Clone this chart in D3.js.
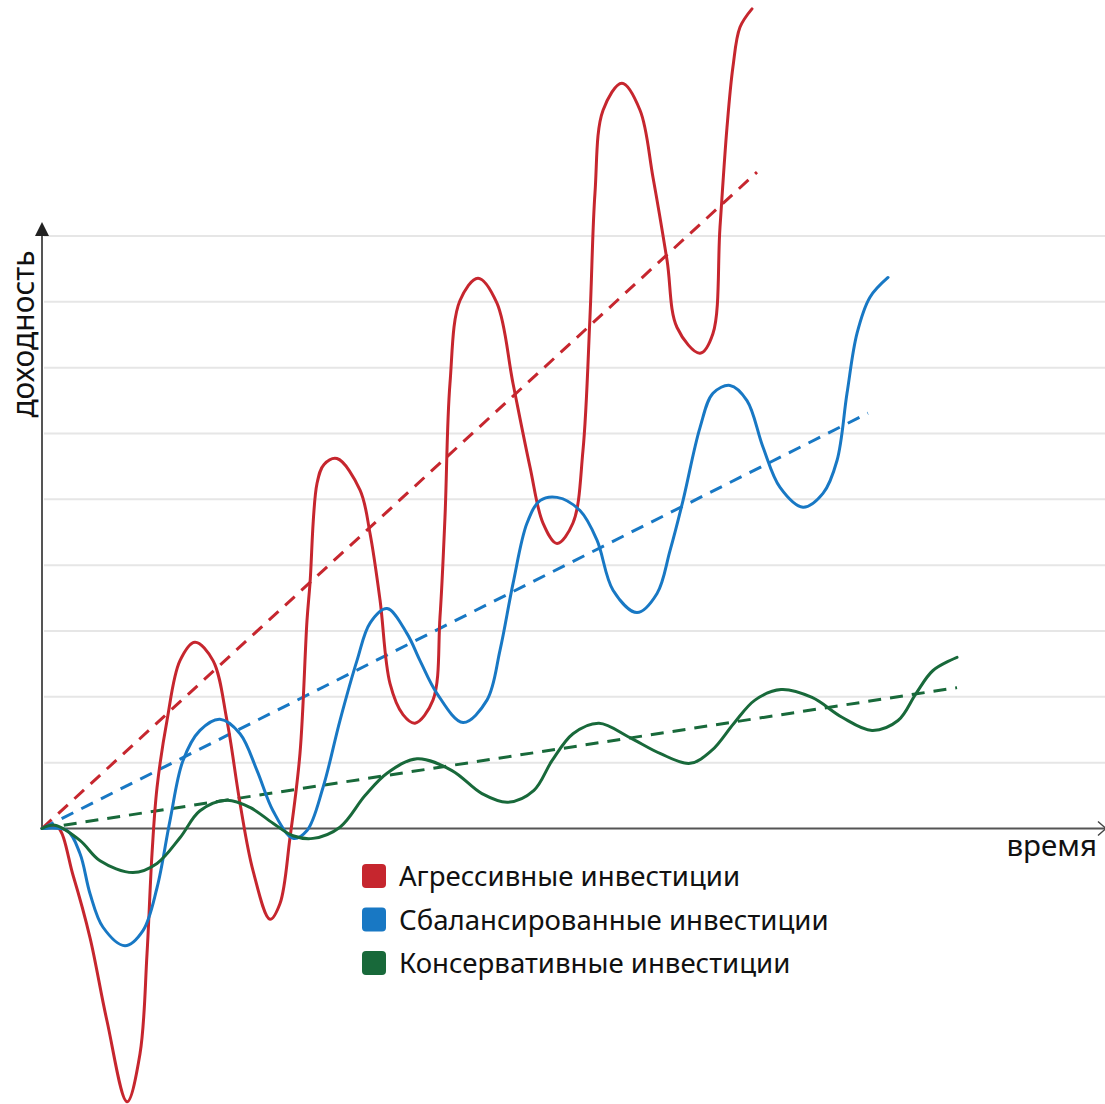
<!DOCTYPE html>
<html><head><meta charset="utf-8">
<script src="https://cdn.jsdelivr.net/npm/d3@7"></script>
<style>html,body{margin:0;padding:0;background:#fff;}svg{display:block;}</style>
</head><body>
<svg id="chart" width="1105" height="1104"></svg>
<script>
// ---- data (time units, return units: one grid step = 1) ----
const seriesNames = ["Агрессивные инвестиции", "Сбалансированные инвестиции", "Консервативные инвестиции"];
const seriesColors = ["#c6262e", "#1878c4", "#18693a"];
const gridValues = [1, 2, 3, 4, 5, 6, 7, 8, 9];
const axisLabelX = "время";
const axisLabelY = "доходность";

const aggressiveT = [0,1.41,2.92,4.52,6.11,8.0,9.22,9.88,10.35,10.82,11.76,12.98,14.39,16.09,17.40,18.63,19.85,21.45,22.39,23.33,24.27,24.93,25.21,25.87,26.53,27.75,29.92,30.86,31.80,32.74,33.96,35.09,36.78,37.44,37.91,38.38,39.32,41.02,42.80,44.31,45.91,47.13,48.45,49.95,50.89,51.55,52.02,52.78,54.56,56.26,57.48,58.80,59.74,61.90,63.12,63.78,64.44,65.00,65.66,66.79];
const aggressiveR = [0,0.03,-0.71,-1.66,-2.92,-4.15,-3.42,-1.90,-0.38,0.62,1.64,2.55,2.83,2.55,1.64,0.38,-0.64,-1.38,-1.14,-0.14,1.14,3.16,3.72,5.24,5.53,5.62,5.14,4.48,3.47,2.20,1.73,1.60,1.95,3.21,4.73,6.76,8.02,8.36,7.98,6.76,5.49,4.64,4.33,4.64,5.74,7.77,9.65,10.91,11.32,10.91,9.89,8.63,7.61,7.22,7.52,9.13,10.65,11.57,12.17,12.45];

const balancedT = [0,2.35,3.57,4.52,5.74,7.81,9.50,10.82,12.04,13.26,14.86,16.74,18.63,20.23,21.73,23.61,24.93,26.43,28.03,29.63,30.86,32.46,34.34,35.56,37.16,39.61,41.86,43.09,44.31,45.63,46.85,48.45,50.61,52.21,53.72,55.97,57.86,59.08,60.30,61.90,63.12,64.72,66.32,67.83,69.43,71.59,73.47,74.79,75.73,76.67,77.89,79.59];
const balancedR = [0,-0.03,-0.38,-0.99,-1.50,-1.78,-1.55,-0.90,0.12,1.03,1.49,1.66,1.44,0.88,0.27,-0.15,-0.03,0.62,1.64,2.55,3.12,3.34,2.96,2.55,2.05,1.61,1.95,2.71,3.72,4.64,4.98,5.03,4.83,4.38,3.62,3.28,3.57,4.22,4.98,6.09,6.61,6.73,6.50,5.79,5.18,4.88,5.09,5.59,6.61,7.52,8.07,8.37];

const conservativeT = [0,1.22,3.57,5.46,8.56,10.82,12.98,14.86,17.40,19.57,21.73,23.61,25.49,28.03,30.39,32.46,35.28,38.57,41.39,43.84,46.28,47.98,49.95,52.40,55.31,58.14,60.96,63.03,65.10,67.07,69.52,72.44,75.26,78.08,80.53,82.22,83.82,86.08];
const conservativeR = [0,0.05,-0.18,-0.49,-0.67,-0.53,-0.14,0.27,0.43,0.32,0.08,-0.11,-0.15,0.02,0.50,0.84,1.06,0.88,0.53,0.40,0.58,1.03,1.44,1.60,1.38,1.14,0.99,1.19,1.60,1.95,2.11,1.99,1.69,1.49,1.64,2.05,2.40,2.60];

// trend lines: [start, end] in (time, return)
const trendT = [[0, 67.26], [0, 77.70], [0, 86.08]];
const trendR = [[0, 9.97], [0, 6.31], [0, 2.14]];

// ---- drawing ----
const W = 1105, H = 1104;
const svg = d3.select("#chart");
const x = d3.scaleLinear().domain([0, 100]).range([42, 1105]);
const y = d3.scaleLinear().domain([0, 9]).range([828.5, 236]);

// grid
svg.append("g").selectAll("line").data(gridValues).join("line")
  .attr("x1", x(0) + 2).attr("x2", W)
  .attr("y1", d => y(d)).attr("y2", d => y(d))
  .attr("stroke", "#e6e6e6").attr("stroke-width", 2);

// axes
const axisColor = "#555";
svg.append("line").attr("x1", x(0)).attr("x2", x(0)).attr("y1", y(0)).attr("y2", 230)
  .attr("stroke", axisColor).attr("stroke-width", 2);
svg.append("path").attr("d", `M${x(0)},222 L${x(0)-7},236 L${x(0)+7},236 Z`).attr("fill", "#222");
svg.append("line").attr("x1", x(0)).attr("x2", W).attr("y1", y(0)).attr("y2", y(0))
  .attr("stroke", axisColor).attr("stroke-width", 2);
svg.append("path").attr("d", `M${W-7},${y(0)-7} L${W+1},${y(0)} L${W-7},${y(0)+7}`)
  .attr("fill", "none").attr("stroke", "#444").attr("stroke-width", 1.5);

const line = d3.line().x(d => x(d[0])).y(d => y(d[1])).curve(d3.curveCatmullRom.alpha(0.5));

// trend lines
trendT.forEach((tt, i) => {
  svg.append("path")
    .attr("d", d3.line().x(d => x(d[0])).y(d => y(d[1]))(tt.map((t, j) => [t, trendR[i][j]])))
    .attr("fill", "none").attr("stroke", seriesColors[i]).attr("stroke-width", 3)
    .attr("stroke-dasharray", "13,9");
});

const seriesData = [
  aggressiveT.map((t, i) => [t, aggressiveR[i]]),
  balancedT.map((t, i) => [t, balancedR[i]]),
  conservativeT.map((t, i) => [t, conservativeR[i]])
];
seriesData.forEach((pts, i) => {
  svg.append("path").attr("d", line(pts)).attr("fill", "none")
    .attr("stroke", seriesColors[i]).attr("stroke-width", 3)
    .attr("stroke-linecap", "round");
});

// axis labels
const font = "'Noto Sans', 'DejaVu Sans', sans-serif";
svg.append("text").attr("x", 1097).attr("y", 856).attr("text-anchor", "end")
  .attr("font-family", font).attr("font-size", 29.5).attr("fill", "#111").text(axisLabelX);
svg.append("text").attr("transform", "translate(34,334) rotate(-90)").attr("text-anchor", "middle")
  .attr("font-family", font).attr("font-size", 30).attr("fill", "#111").text(axisLabelY);

// legend
const lg = svg.append("g");
seriesNames.forEach((name, i) => {
  const base = 886 + i * 43.5;
  lg.append("rect").attr("x", 362).attr("y", base - 22).attr("width", 24).attr("height", 24)
    .attr("rx", 4).attr("fill", seriesColors[i]);
  lg.append("text").attr("x", 399).attr("y", base).attr("font-family", font)
    .attr("font-size", 27.6).attr("fill", "#111").text(name);
});
</script>
</body></html>
